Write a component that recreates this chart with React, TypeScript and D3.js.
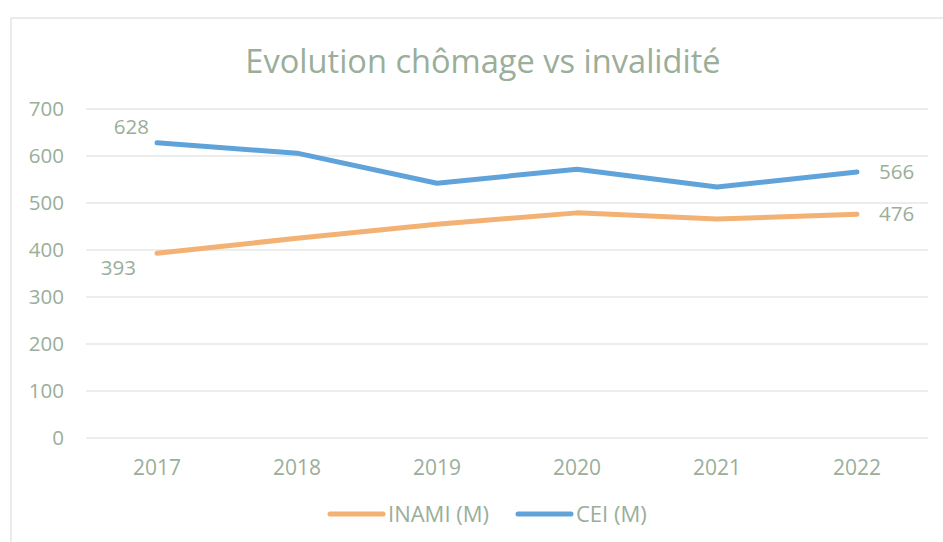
import React, { useEffect, useRef } from "react";
import * as d3 from "d3";

const years = ["2017", "2018", "2019", "2020", "2021", "2022"];
const inami = [393, 425, 455, 479, 466, 476];
const cei = [628, 606, 542, 572, 534, 566];
const yTicks = [0, 100, 200, 300, 400, 500, 600, 700];

const W = 943;
const H = 542;
const FONT = "'Open Sans', sans-serif";
const TEXT = "#9aae9a";
const ORANGE = "#f3b173";
const BLUE = "#5fa3da";

const App = () => {
  const ref = useRef<SVGSVGElement>(null);

  useEffect(() => {
    const svg = d3.select(ref.current);
    svg.selectAll("*").remove();

    const x = d3.scaleBand().domain(years).range([87, 927]);
    const y = d3.scaleLinear().domain([0, 700]).range([438, 109]);
    const cx = (d: string) => (x(d) || 0) + x.bandwidth() / 2;

    // frame
    svg
      .append("rect")
      .attr("x", 11)
      .attr("y", 18)
      .attr("width", 1000)
      .attr("height", 600)
      .attr("fill", "white")
      .attr("stroke", "#e2e6e4")
      .attr("stroke-width", 1.5);

    svg
      .append("text")
      .attr("x", 483)
      .attr("y", 73)
      .attr("text-anchor", "middle")
      .attr("font-size", 32.6)
      .attr("fill", TEXT)
      .text("Evolution chômage vs invalidité");

    // grid
    svg
      .append("g")
      .selectAll("line")
      .data(yTicks)
      .enter()
      .append("line")
      .attr("x1", 86)
      .attr("x2", 928)
      .attr("y1", (d) => y(d))
      .attr("y2", (d) => y(d))
      .attr("stroke", "#e6e9e8")
      .attr("stroke-width", 1.5);

    svg
      .append("g")
      .selectAll("text")
      .data(yTicks)
      .enter()
      .append("text")
      .attr("x", 64)
      .attr("y", (d) => y(d))
      .attr("dy", "0.35em")
      .attr("text-anchor", "end")
      .attr("font-size", 20.5)
      .attr("fill", TEXT)
      .text((d) => d);

    svg
      .append("g")
      .selectAll("text")
      .data(years)
      .enter()
      .append("text")
      .attr("x", (d) => cx(d))
      .attr("y", 468)
      .attr("dy", "0.35em")
      .attr("text-anchor", "middle")
      .attr("font-size", 21)
      .attr("fill", TEXT)
      .text((d) => d);

    const series = [
      { values: inami, color: ORANGE },
      { values: cei, color: BLUE },
    ];
    const lineGen = d3
      .line<number>()
      .x((_, i) => cx(years[i]))
      .y((d) => y(d));

    series.forEach((s) => {
      svg
        .append("path")
        .datum(s.values)
        .attr("fill", "none")
        .attr("stroke", s.color)
        .attr("stroke-width", 5)
        .attr("stroke-linecap", "round")
        .attr("stroke-linejoin", "round")
        .attr("d", lineGen);
    });

    // data labels on first and last points
    const last = years.length - 1;
    const labels = [
      { v: cei[0], px: cx(years[0]) - 8, py: y(cei[0]) - 16, anchor: "end" },
      { v: inami[0], px: cx(years[0]) - 21, py: y(inami[0]) + 15, anchor: "end" },
      { v: cei[last], px: cx(years[last]) + 22, py: y(cei[last]), anchor: "start" },
      { v: inami[last], px: cx(years[last]) + 22, py: y(inami[last]), anchor: "start" },
    ];
    svg
      .append("g")
      .selectAll("text")
      .data(labels)
      .enter()
      .append("text")
      .attr("x", (d) => d.px)
      .attr("y", (d) => d.py)
      .attr("dy", "0.35em")
      .attr("text-anchor", (d) => d.anchor)
      .attr("font-size", 20.5)
      .attr("fill", TEXT)
      .text((d) => d.v);

    // legend
    const legend = [
      { name: "INAMI (M)", color: ORANGE, x0: 330 },
      { name: "CEI (M)", color: BLUE, x0: 518 },
    ];
    legend.forEach((l) => {
      svg
        .append("line")
        .attr("x1", l.x0)
        .attr("x2", l.x0 + 53)
        .attr("y1", 514)
        .attr("y2", 514)
        .attr("stroke", l.color)
        .attr("stroke-width", 5)
        .attr("stroke-linecap", "round");
      svg
        .append("text")
        .attr("x", l.x0 + 58)
        .attr("y", 514)
        .attr("dy", "0.35em")
        .attr("font-size", 22)
        .attr("fill", TEXT)
        .text(l.name);
    });
  }, []);

  return (
    <svg
      ref={ref}
      width={W}
      height={H}
      style={{ position: "absolute", left: 0, top: 0, fontFamily: FONT }}
    />
  );
};

export default App;
